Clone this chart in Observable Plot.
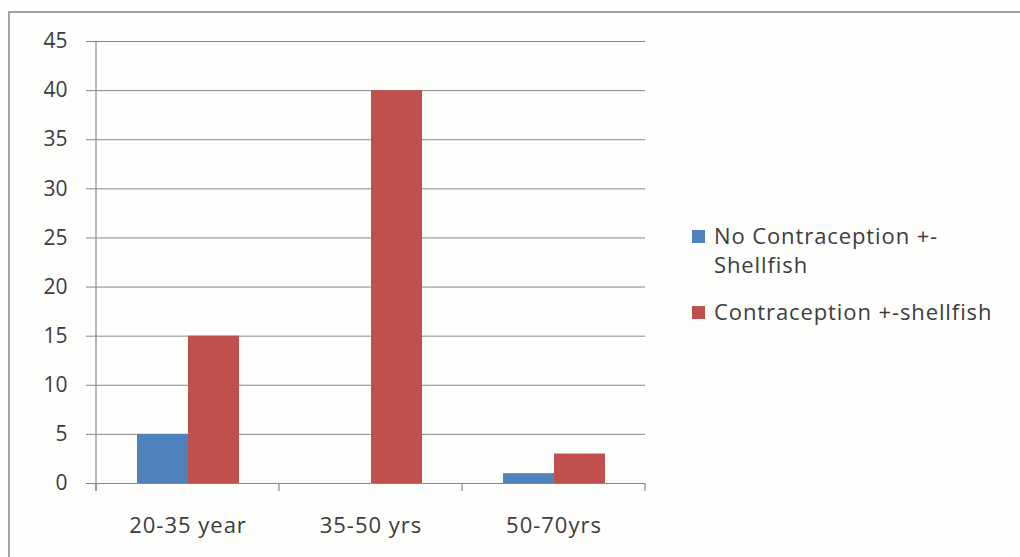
<!DOCTYPE html>
<html>
<head>
<meta charset="utf-8">
<script src="https://cdn.jsdelivr.net/npm/d3@7"></script>
<script src="https://cdn.jsdelivr.net/npm/@observablehq/plot@0.6"></script>
<style>
  html, body { margin: 0; padding: 0; background: #fefefc; }
  #wrap { position: relative; width: 1020px; height: 557px; overflow: hidden; background: #fefefc; font-family: "Open Sans", sans-serif; }
  #frame { position: absolute; left: 8px; top: 11px; width: 1100px; height: 700px; border-left: 2px solid #a3a3a3; border-top: 2px solid #a3a3a3; }
  #chart { position: absolute; left: 0; top: 0; }
  #legend { position: absolute; left: 692px; top: 221px; color: #3c3c3c; font-size: 22px; line-height: 29px; letter-spacing: 0.9px; }
  .item { position: relative; padding-left: 22px; margin-bottom: 18px; }
  .sw { position: absolute; left: 0; top: 9px; width: 13px; height: 13px; }
  .fxlab text { letter-spacing: 1px; }
</style>
</head>
<body>
<div id="wrap">
  <div id="frame"></div>
  <div id="chart"></div>
  <div id="legend"></div>
</div>
<script>
const categories = ["20-35 year", "35-50 yrs", "50-70yrs"];
const seriesNames = ["No Contraception +-Shellfish", "Contraception +-shellfish"];
const legendLines = [["No Contraception +-", "Shellfish"], ["Contraception +-shellfish"]];
const noContraception = [5, 0, 1];
const contraception = [15, 40, 3];
const yTicks = [0, 5, 10, 15, 20, 25, 30, 35, 40, 45];
const colors = ["#4f81bd", "#c0504d"];

const data = [];
categories.forEach((c, i) => {
  data.push({category: c, series: seriesNames[0], value: noContraception[i]});
  data.push({category: c, series: seriesNames[1], value: contraception[i]});
});

const marginLeft = 96, marginRight = 375, marginTop = 41, marginBottom = 74;

const plot = Plot.plot({
  width: 1020,
  height: 557,
  marginLeft, marginRight, marginTop, marginBottom,
  style: {background: "transparent", fontFamily: "Open Sans, sans-serif", fontSize: "21px", color: "#3c3c3c"},
  fx: {domain: categories, paddingInner: 0, paddingOuter: 0, label: null},
  x: {domain: seriesNames, paddingInner: 0, paddingOuter: 0.76, axis: null},
  y: {domain: [0, 45], ticks: yTicks, label: null},
  color: {domain: seriesNames, range: colors},
  marks: [
    Plot.gridY(yTicks, {stroke: "#878787", strokeOpacity: 1, strokeWidth: 1}),
    Plot.axisY(yTicks, {tickSize: 10, tickPadding: 19, stroke: "#878787", fill: "#3c3c3c", fontSize: 21, label: null}),
    Plot.axisFx({anchor: "bottom", tickSize: 0, tickPadding: 34, fontSize: 22, fill: "#3c3c3c", label: null, className: "fxlab"}),
    Plot.barY(data, {fx: "category", x: "series", y: "value", fill: "series"}),
    Plot.ruleY([0], {stroke: "#878787", strokeWidth: 1.2})
  ]
});
document.getElementById("chart").appendChild(plot);

// Axis lines & category boundary ticks derived from scales
const fx = plot.scale("fx"), y = plot.scale("y");
const svg = d3.select(plot);
const y0 = y.apply(0), yTop = y.apply(45);
const xLeft = fx.apply(categories[0]);
const bounds = categories.map(c => fx.apply(c)).concat([fx.apply(categories[categories.length - 1]) + fx.bandwidth]);
const g = svg.append("g").attr("stroke", "#878787").attr("stroke-width", 1.2);
g.append("line").attr("x1", xLeft).attr("x2", xLeft).attr("y1", yTop).attr("y2", y0 + 8);
bounds.forEach(b => g.append("line").attr("x1", b).attr("x2", b).attr("y1", y0).attr("y2", y0 + 8));

// Legend
const legend = document.getElementById("legend");
seriesNames.forEach((s, i) => {
  const item = document.createElement("div");
  item.className = "item";
  const sw = document.createElement("div");
  sw.className = "sw";
  sw.style.background = plot.scale("color").apply(s);
  item.appendChild(sw);
  legendLines[i].forEach(l => {
    const d = document.createElement("div");
    d.textContent = l;
    item.appendChild(d);
  });
  legend.appendChild(item);
});
</script>
</body>
</html>
